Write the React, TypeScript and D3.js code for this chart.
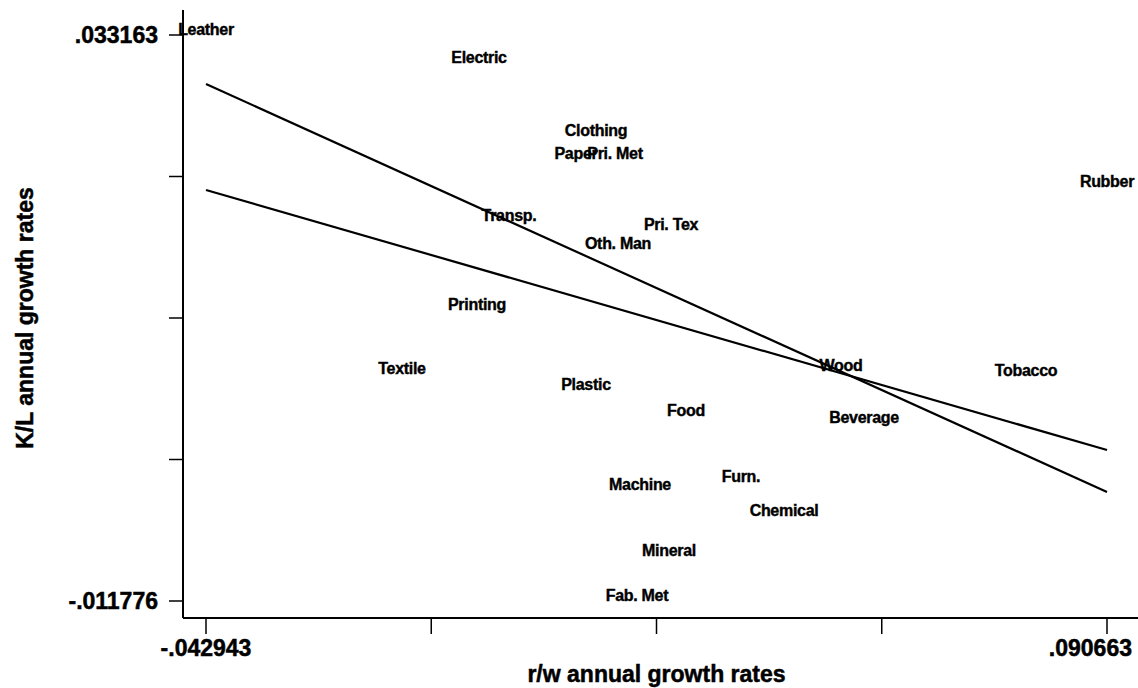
import React from "react";
import * as d3 from "d3";

const industries = [
  "Leather", "Electric", "Clothing", "Paper", "Pri. Met", "Rubber", "Transp.", "Pri. Tex",
  "Oth. Man", "Printing", "Textile", "Plastic", "Wood", "Tobacco", "Food", "Beverage",
  "Machine", "Furn.", "Chemical", "Mineral", "Fab. Met",
];
const rwGrowth = [
  -0.042943, -0.00246, 0.01489, 0.011924, 0.017708, 0.090663, 0.001989, 0.026012,
  0.018152, -0.002756, -0.013878, 0.013407, 0.051221, 0.078655, 0.028236, 0.054632,
  0.021415, 0.036392, 0.042769, 0.025715, 0.02097,
];
const klGrowth = [
  0.033163, 0.03094, 0.025144, 0.023317, 0.023317, 0.021094, 0.018395, 0.01768,
  0.016171, 0.011328, 0.006246, 0.004976, 0.006485, 0.006088, 0.002912, 0.002356,
  -0.002964, -0.002329, -0.005028, -0.008204, -0.011776,
];
// fitted lines evaluated at x min and x max
const fitX = [-0.042943, 0.090663];
const fitSteep = [0.029272, -0.003123];
const fitFlat = [0.020856, 0.000212];

const xTickValues = [-0.042943, -0.0095415, 0.02386, 0.0572615, 0.090663];
const xTickLabels = ["-.042943", "", "", "", ".090663"];
const yTickValues = [-0.011776, -0.00054125, 0.0106935, 0.02192875, 0.033163];
const yTickLabels = ["-.011776", "", "", "", ".033163"];

const FONT = "'Liberation Sans', Arial, Helvetica, sans-serif";

export default function App() {
  const W = 1138, H = 688;
  const axisX = 183, axisY = 618;
  const x = d3.scaleLinear().domain([-0.042943, 0.090663]).range([206, 1107]);
  const y = d3.scaleLinear().domain([-0.011776, 0.033163]).range([601, 35]);
  const line = d3.line<[number, number]>().x((d) => x(d[0])).y((d) => y(d[1]));
  const steep: [number, number][] = fitX.map((v, i) => [v, fitSteep[i]]);
  const flat: [number, number][] = fitX.map((v, i) => [v, fitFlat[i]]);
  const heavy = { stroke: "#000", strokeWidth: 0.5 };

  return (
    <>
      <style>{`body{margin:0;}`}</style>
      <svg width={W} height={H} style={{ display: "block", background: "#fff" }} fontFamily={FONT}>
        <rect x={0} y={0} width={W} height={H} fill="#fff" />
        {/* axes */}
        <line x1={axisX} y1={10} x2={axisX} y2={axisY} stroke="#000" strokeWidth={2} />
        <line x1={axisX} y1={axisY} x2={W} y2={axisY} stroke="#000" strokeWidth={2} />
        {yTickValues.map((v, i) => (
          <g key={"yt" + i}>
            <line x1={169} x2={axisX} y1={y(v)} y2={y(v)} stroke="#000" strokeWidth={1.5} />
            {yTickLabels[i] && (
              <text x={158} y={y(v)} dy="0.36em" textAnchor="end" fontSize={23} fontWeight="bold" {...heavy}>
                {yTickLabels[i]}
              </text>
            )}
          </g>
        ))}
        {xTickValues.map((v, i) => {
          const atEnd = i === xTickValues.length - 1;
          return (
            <g key={"xt" + i}>
              <line x1={x(v)} x2={x(v)} y1={axisY} y2={634} stroke="#000" strokeWidth={1.5} />
              {xTickLabels[i] && (
                <text
                  x={atEnd ? W - 6 : x(v)}
                  y={656}
                  textAnchor={atEnd ? "end" : "middle"}
                  fontSize={23}
                  fontWeight="bold"
                  {...heavy}
                >
                  {xTickLabels[i]}
                </text>
              )}
            </g>
          );
        })}
        <text x={656.5} y={682} textAnchor="middle" fontSize={23} fontWeight="bold" {...heavy}>
          r/w annual growth rates
        </text>
        <text
          transform={`translate(33,${(35 + 601) / 2}) rotate(-90)`}
          textAnchor="middle"
          fontSize={23}
          fontWeight="bold"
          {...heavy}
        >
          K/L annual growth rates
        </text>
        {/* fitted lines */}
        <path d={line(steep) || ""} fill="none" stroke="#000" strokeWidth={2.2} />
        <path d={line(flat) || ""} fill="none" stroke="#000" strokeWidth={2.2} />
        {/* labels */}
        {industries.map((name, i) => (
          <text
            key={name}
            x={x(rwGrowth[i])}
            y={y(klGrowth[i])}
            textAnchor="middle"
            fontSize={16}
            fontWeight="bold"
            letterSpacing={-0.3}
            stroke="#000"
            strokeWidth={0.4}
          >
            {name}
          </text>
        ))}
      </svg>
    </>
  );
}
